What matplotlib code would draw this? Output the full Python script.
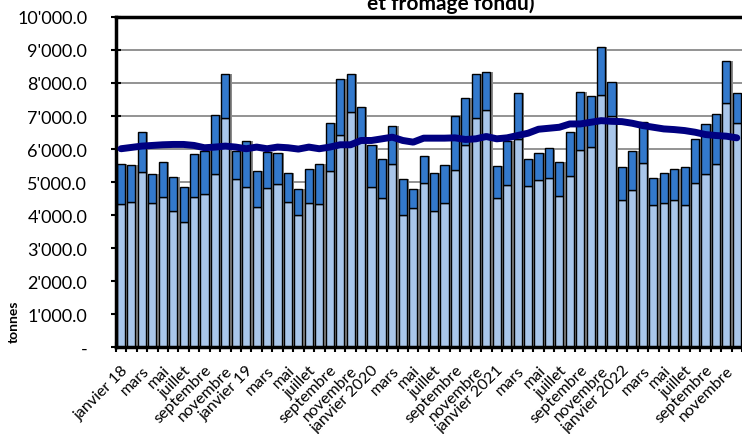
import numpy as np
import matplotlib
matplotlib.use("Agg")
import matplotlib.pyplot as plt
from matplotlib.ticker import FixedLocator, FuncFormatter

# monthly data jan 2018 - dec 2022 (tonnes)
base = [4330, 4400, 5300, 4360, 4550, 4120, 3800, 4550, 4640, 5240, 6940, 5090,
        4860, 4260, 4820, 4950, 4400, 4000, 4370, 4330, 5340, 6420, 7110, 6300,
        4860, 4510, 5540, 4010, 4210, 4960, 4130, 4380, 5380, 6110, 6940, 7190,
        4510, 4910, 6310, 4890, 5070, 5130, 4590, 5190, 5970, 6060, 7640, 6990,
        4460, 4760, 5580, 4310, 4360, 4460, 4310, 4980, 5250, 5550, 7390, 6790]
total = [5560, 5510, 6530, 5240, 5600, 5160, 4850, 5850, 5940, 7030, 8280, 5950,
         6230, 5330, 5900, 5890, 5280, 4800, 5410, 5560, 6790, 8130, 8260, 7280,
         6110, 5700, 6710, 5090, 4780, 5790, 5290, 5530, 7000, 7530, 8260, 8340,
         5480, 6230, 7690, 5690, 5890, 6030, 5620, 6520, 7730, 7610, 9080, 8040,
         5470, 5930, 6820, 5130, 5290, 5400, 5460, 6290, 6760, 7070, 8670, 7690]
trend = [6010, 6050, 6090, 6110, 6130, 6140, 6140, 6110, 6040, 6060, 6090, 6060,
         6010, 6060, 6010, 6060, 6040, 6000, 6060, 6010, 6060, 6130, 6130, 6260,
         6260, 6310, 6360, 6260, 6210, 6330, 6330, 6330, 6340, 6290, 6310, 6380,
         6310, 6340, 6410, 6480, 6600, 6630, 6660, 6760, 6760, 6810, 6860, 6840,
         6830, 6780, 6710, 6660, 6610, 6590, 6560, 6510, 6440, 6410, 6390, 6340]

months = ["janvier", "février", "mars", "avril", "mai", "juin", "juillet", "août",
          "septembre", "octobre", "novembre", "décembre"]
years = ["18", "19", "2020", "2021", "2022"]

labels = []
for y in years:
    for m in months:
        labels.append(m + " " + y if m == "janvier" else m)

base = np.array(base)
top = np.array(total) - base
x = np.arange(len(base))

plt.rcParams['font.family'] = ['Lato', 'DejaVu Sans']

fig = plt.figure(figsize=(7.42, 4.35), dpi=100)
ax = fig.add_axes([0.156, 0.199, 0.844, 0.760])

# shadow behind bars
ax.bar(x + 0.22, total, width=0.78, color="#8a8a8a", zorder=1)
ax.bar(x, base, width=0.78, color="#a9c6ea", edgecolor="black", linewidth=1, zorder=2)
ax.bar(x, top, bottom=base, width=0.78, color="#3379cc", edgecolor="black",
       linewidth=1, zorder=2)
ax.plot(x, trend, color="#000080", linewidth=5, solid_capstyle="round", zorder=3)

ax.set_xlim(-0.5, len(x) - 0.5)
ax.set_ylim(0, 10000)
ax.yaxis.set_major_locator(FixedLocator(np.arange(0, 10001, 1000)))
ax.yaxis.set_major_formatter(FuncFormatter(
    lambda v, p: "-" if v == 0 else "{:,.1f}".format(v).replace(",", "'")))
ax.grid(axis="y", color="#808080", linewidth=1.2, zorder=0)
ax.set_axisbelow(True)

ax.set_xticks(x[::2])
ax.set_xticklabels(labels[::2], rotation=45, ha="right", rotation_mode="anchor",
                   fontsize=11.5)
ax.set_xticks(np.arange(-0.5, len(x), 1), minor=True)
ax.tick_params(axis="x", which="major", length=0, pad=11)
ax.tick_params(axis="x", which="minor", length=7, width=1.5, direction="inout")
ax.tick_params(axis="y", length=7, width=1.5, direction="inout", labelsize=13, pad=17)

for s in ["left", "bottom", "top"]:
    ax.spines[s].set_linewidth(2.5)
ax.spines["right"].set_visible(False)

ax.set_ylabel("tonnes", fontsize=10, fontweight="bold")
ax.yaxis.set_label_coords(-0.153, 0.08)

fig.text(0.608, 0.976, "et fromage fondu)", ha="center", va="baseline",
         fontsize=15, fontweight="bold")

fig.savefig("out.png", dpi=100)
